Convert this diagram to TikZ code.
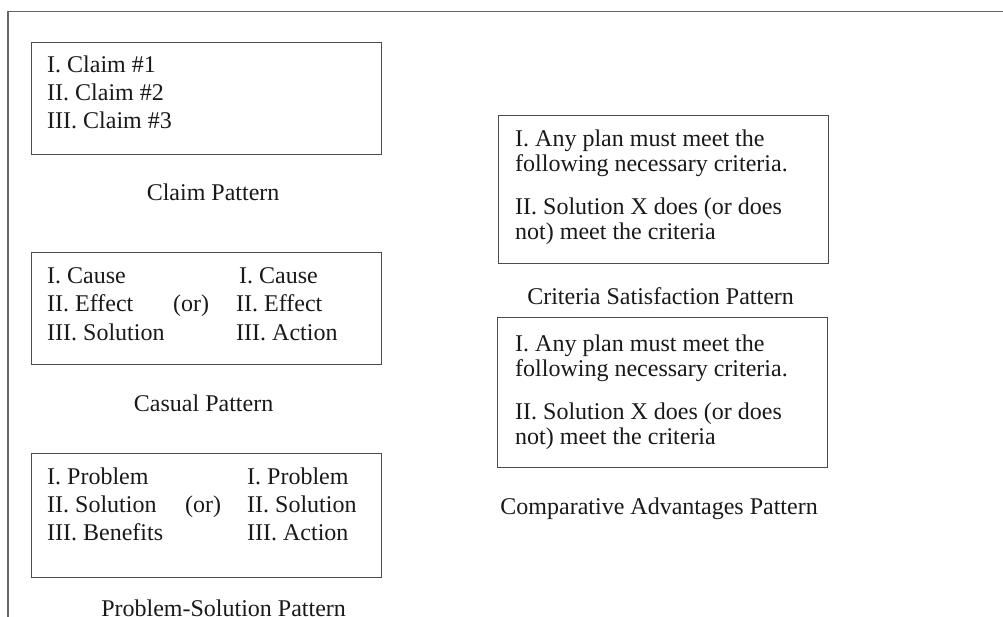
\documentclass[tikz,border=0pt]{standalone}
\usepackage{fontspec}
\setmainfont{Liberation Serif}
\usetikzlibrary{positioning}

\begin{document}
\begin{tikzpicture}[
    x=1pt, y=-1pt,
    frame/.style={draw=black!60, line width=1.6pt},
    patbox/.style={rectangle, draw=black!70, line width=1.2pt, anchor=north west, inner sep=0pt},
    listtext/.style={anchor=base west, inner sep=0pt, text=black!90, font=\fontsize{24}{28}\selectfont},
    crittext/.style={listtext, font=\fontsize{24}{25}\selectfont},
    patlabel/.style={inner sep=0pt, text=black!90, font=\fontsize{24}{28}\selectfont}
]
\useasboundingbox (0,0) rectangle (1003,617);

% Frame
\draw[frame] (8,617) |- (1003,11.5);

% Boxes
\node[patbox, minimum width=350pt, minimum height=112pt] (claim) at (31,42) {};
\node[patbox, minimum width=350pt, minimum height=112pt] (casual) at (31,252) {};
\node[patbox, minimum width=350pt, minimum height=124pt] (probsol) at (31,453) {};
\node[patbox, minimum width=330pt, minimum height=148pt] (criteria) at (498,115) {};
\node[patbox, minimum width=330pt, minimum height=150pt] (compadv) at (497,317) {};

% Box text
\node[listtext] (claimlist) at ([shift={(16,31)}]claim.north west)
    {\begin{tabular}[t]{@{}l@{}}I. Claim \#1\\II. Claim \#2\\III. Claim \#3\end{tabular}};
\node[listtext] (casuallist) at ([shift={(16,32)}]casual.north west)
    {\begin{tabular}[t]{@{}p{126pt}@{}p{63pt}@{}l@{}}
     I. Cause & & \hspace{3pt}I. Cause\\
     II. Effect & (or) & II. Effect\\
     III. Solution & & III. Action
     \end{tabular}};
\node[listtext] (probsollist) at ([shift={(16,31)}]probsol.north west)
    {\begin{tabular}[t]{@{}p{138pt}@{}p{62pt}@{}l@{}}
     I. Problem & & I. Problem\\
     II. Solution & (or) & II. Solution\\
     III. Benefits & & III. Action
     \end{tabular}};
\node[crittext] (criterialist) at ([shift={(17,32)}]criteria.north west)
    {\begin{tabular}[t]{@{}l@{}}
     I. Any plan must meet the\\
     following necessary criteria.\\[18pt]
     II. Solution X does (or does\\
     not) meet the criteria
     \end{tabular}};
\node[crittext] (compadvlist) at ([shift={(18,34)}]compadv.north west)
    {\begin{tabular}[t]{@{}l@{}}
     I. Any plan must meet the\\
     following necessary criteria.\\[18pt]
     II. Solution X does (or does\\
     not) meet the criteria
     \end{tabular}};

% Labels
\node[patlabel, below=28.5pt of claim, xshift=6.5pt] (claimlbl) {Claim Pattern};
\node[patlabel, below=29.5pt of casual, xshift=-3pt] (casuallbl) {Casual Pattern};
\node[patlabel, below=21.5pt of probsol, xshift=17pt] (probsollbl) {Problem-Solution Pattern};
\node[patlabel, below=23.5pt of criteria, xshift=-3pt] (criterialbl) {Criteria Satisfaction Pattern};
\node[patlabel, below=29.5pt of compadv, xshift=-3.5pt] (compadvlbl) {Comparative Advantages Pattern};

\end{tikzpicture}
\end{document}
